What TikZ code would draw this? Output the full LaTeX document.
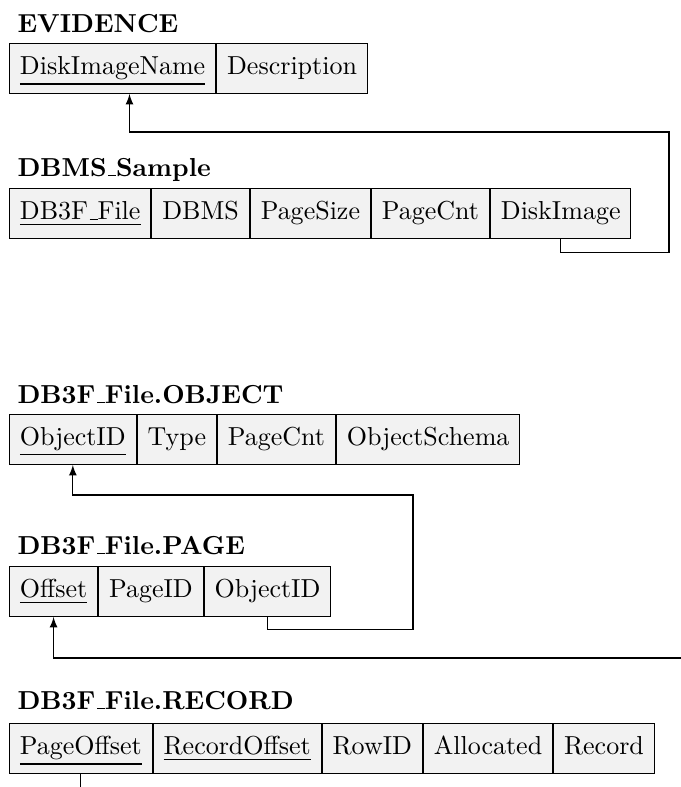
\documentclass[tikz,border=0pt]{standalone}
\usetikzlibrary{positioning}

\tikzset{
  cell/.style={draw, fill=gray!10, inner xsep=4pt, inner ysep=0pt,
    minimum height=19.2pt, text height=6.9pt, text depth=1.9pt, anchor=west},
  tabtitle/.style={font=\bfseries, inner sep=0pt, anchor=base west},
  fk/.style={-latex},
}
\newcommand{\pk}[1]{\underline{#1}}
\newcommand{\usc}{\leavevmode\kern.06em\vbox{\hrule width.3em}}

\begin{document}
\begin{tikzpicture}[x=0.3846pt, y=-0.3846pt]
\useasboundingbox (0,0) rectangle (681,787);
\clip (0,0) rectangle (681,787);

% EVIDENCE
\node[tabtitle] (evt) at (17,32) {EVIDENCE};
\node[cell, anchor=north west] (ev1) at (9,43) {\pk{DiskImageName}};
\node[cell, right=0pt of ev1] (ev2) {Description};

% DBMS_Sample
\node[tabtitle] (dst) at (17,176) {DBMS\usc Sample};
\node[cell, anchor=north west] (ds1) at (9,188) {\pk{DB3F\usc File}};
\node[cell, right=0pt of ds1] (ds2) {DBMS};
\node[cell, right=0pt of ds2] (ds3) {PageSize};
\node[cell, right=0pt of ds3] (ds4) {PageCnt};
\node[cell, right=0pt of ds4] (ds5) {DiskImage};

% DB3F_File.OBJECT
\node[tabtitle] (obt) at (17,403) {DB3F\usc File.OBJECT};
\node[cell, anchor=north west] (ob1) at (9,414) {\pk{ObjectID}};
\node[cell, right=0pt of ob1] (ob2) {Type};
\node[cell, right=0pt of ob2] (ob3) {PageCnt};
\node[cell, right=0pt of ob3] (ob4) {ObjectSchema};

% DB3F_File.PAGE
\node[tabtitle] (pgt) at (17,554) {DB3F\usc File.PAGE};
\node[cell, anchor=north west] (pg1) at (9,566) {\pk{Offset}};
\node[cell, right=0pt of pg1] (pg2) {PageID};
\node[cell, right=0pt of pg2] (pg3) {ObjectID};

% DB3F_File.RECORD
\node[tabtitle] (rct) at (17,709) {DB3F\usc File.RECORD};
\node[cell, anchor=north west] (rc1) at (9,723) {\pk{PageOffset}};
\node[cell, right=0pt of rc1] (rc2) {\pk{RecordOffset}};
\node[cell, right=0pt of rc2] (rc3) {RowID};
\node[cell, right=0pt of rc3] (rc4) {Allocated};
\node[cell, right=0pt of rc4] (rc5) {Record};

% foreign keys
\coordinate (offsrc) at (700,658);
\coordinate (pgsink) at (79,800);
\draw[fk] (ds5.south) -- ++(0,14) -| (669,132) -| ([xshift=6.5pt]ev1.south);
\draw[fk] (pg3.south) -- ++(0,13) -| (413,495) -| (ob1.south);
\draw[fk] (offsrc) -| (pg1.south);
\draw (rc1.south) -- (rc1.south |- pgsink);
\end{tikzpicture}
\end{document}
